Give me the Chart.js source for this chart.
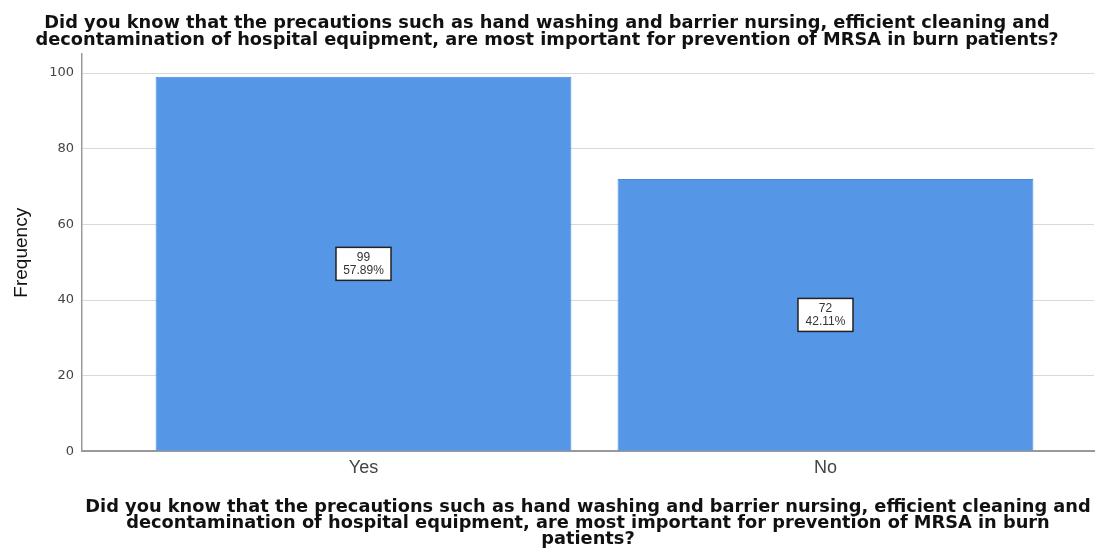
<!DOCTYPE html>
<html>
<head>
<meta charset="utf-8">
<script src="https://cdn.jsdelivr.net/npm/chart.js@4/dist/chart.umd.min.js"></script>
<style>
  body { margin: 0; background: #fff; }
  #wrap { width: 1097px; height: 550px; position: relative; }
</style>
</head>
<body>
<div id="wrap"><canvas id="myChart"></canvas></div>
<script>
// data
const categories = ["Yes", "No"];
const frequencies = [99, 72];
const percents = ["57.89%", "42.11%"];
const yTicks = [0, 20, 40, 60, 80, 100];

const question = [
  "Did you know that the precautions such as hand washing and barrier nursing, efficient cleaning and",
  "decontamination of hospital equipment, are most important for prevention of MRSA in burn patients?"
];
const xTitle = [
  "Did you know that the precautions such as hand washing and barrier nursing, efficient cleaning and",
  "decontamination of hospital equipment, are most important for prevention of MRSA in burn",
  "patients?"
];

const FONT = "'Liberation Sans', Arial, sans-serif";
const WIDE = "'DejaVu Sans', sans-serif";

// label boxes in the middle of each bar
const boxLabels = {
  id: "boxLabels",
  afterDatasetsDraw(chart) {
    const ctx = chart.ctx;
    const meta = chart.getDatasetMeta(0);
    ctx.save();
    ctx.font = "12px " + FONT;
    ctx.textAlign = "center";
    ctx.textBaseline = "middle";
    meta.data.forEach((bar, i) => {
      const cx = bar.x;
      const cy = (bar.y + bar.base) / 2;
      const w = 55, h = 33;
      ctx.fillStyle = "#fff";
      ctx.fillRect(cx - w / 2, cy - h / 2, w, h);
      ctx.strokeStyle = "#222";
      ctx.lineWidth = 1.5;
      ctx.strokeRect(cx - w / 2, cy - h / 2, w, h);
      ctx.fillStyle = "#333";
      ctx.fillText(String(frequencies[i]), cx, cy - 6);
      ctx.fillText(percents[i], cx, cy + 7);
    });
    ctx.restore();
  }
};

const data = {
  datasets: [{
    data: frequencies.map((v, i) => ({ x: i, y: v })),
    backgroundColor: "#5596e6",
    borderColor: "#4a8ad8",
    borderWidth: 1,
    barPercentage: 0.9,
    categoryPercentage: 1
  }]
};

const config = {
  type: "bar",
  data,
  plugins: [boxLabels],
  options: {
    responsive: true,
    maintainAspectRatio: false,
    animation: false,
    layout: { padding: { top: 0, right: 3, bottom: 0, left: 0 } },
    plugins: {
      legend: { display: false },
      tooltip: { enabled: false },
      title: {
        display: true,
        text: question,
        color: "#111",
        font: { family: WIDE, size: 17.8, weight: "bold", lineHeight: 0.96 },
        padding: { top: 15, bottom: 5 }
      }
    },
    scales: {
      x: {
        type: "linear",
        min: -0.6093,
        max: 1.5812,
        offset: false,
        grid: { display: false, drawTicks: false },
        border: { color: "#999", width: 2 },
        afterBuildTicks: (scale) => {
          scale.ticks = categories.map((c, i) => ({ value: i }));
        },
        ticks: {
          color: "#444",
          font: { family: FONT, size: 18 },
          padding: 6,
          callback: (v) => categories[v]
        },
        title: {
          display: true,
          text: xTitle,
          color: "#111",
          font: { family: WIDE, size: 17.8, weight: "bold", lineHeight: 0.9 },
          padding: { top: 14, bottom: 3 }
        }
      },
      y: {
        min: 0,
        max: 105,
        afterBuildTicks: (scale) => {
          scale.ticks = yTicks.map((v) => ({ value: v }));
        },
        afterFit: (scale) => { scale.width = 82; },
        grid: { color: "#d9d9d9", lineWidth: 1, drawTicks: false },
        border: { color: "#999", width: 1.5 },
        ticks: {
          color: "#444",
          font: { family: WIDE, size: 13 },
          padding: 8
        },
        title: {
          display: true,
          text: "Frequency",
          color: "#111",
          font: { family: FONT, size: 19 },
          padding: { top: 10, bottom: 8 }
        }
      }
    }
  }
};

const myChart = new Chart("myChart", config);
</script>
</body>
</html>
